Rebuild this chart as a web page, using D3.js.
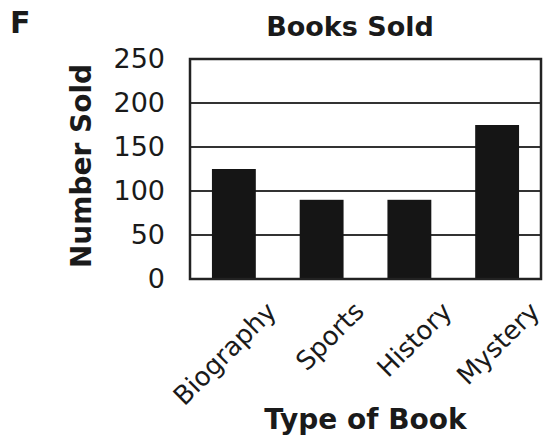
<!DOCTYPE html>
<html>
<head>
<meta charset="utf-8">
<script src="https://cdn.jsdelivr.net/npm/d3@7"></script>
<style>
  body { margin: 0; background: #fff; }
  text { font-family: "DejaVu Sans", Verdana, sans-serif; fill: #1a1a1a; }
</style>
</head>
<body>
<div id="chart-area"></div>
<script>
// data
var categories = ["Biography", "Sports", "History", "Mystery"];
var sold = [125, 90, 90, 175];
var yTicks = [0, 50, 100, 150, 200, 250];

var svg_x = 546;
var svg_y = 440;

// plot frame
var margin = {left: 190, right: 5, top: 59, bottom: 161};
var width = svg_x - margin.left - margin.right;
var height = svg_y - margin.top - margin.bottom;

var svg = d3.select("#chart-area")
  .append("svg")
    .attr("width", svg_x)
    .attr("height", svg_y);

var g = svg.append("g")
  .attr("transform", "translate(" + margin.left + "," + margin.top + ")");

// scales
var x = d3.scaleBand()
  .domain(categories)
  .range([0, width])
  .paddingInner(0.5)
  .paddingOuter(0.25);
var y = d3.scaleLinear()
  .domain([0, 250])
  .range([height, 0]);

// gridlines
g.selectAll(".grid")
  .data(yTicks.slice(1, -1))
  .enter().append("line")
    .attr("x1", 0)
    .attr("x2", width)
    .attr("y1", d => y(d))
    .attr("y2", d => y(d))
    .attr("stroke", "#333")
    .attr("stroke-width", 2);

// bars
g.selectAll("rect.bar")
  .data(sold)
  .enter().append("rect")
    .attr("class", "bar")
    .attr("x", (d, i) => x(categories[i]))
    .attr("y", d => y(d))
    .attr("width", x.bandwidth())
    .attr("height", d => height - y(d))
    .attr("fill", "#151515");

// frame
g.append("rect")
  .attr("width", width)
  .attr("height", height)
  .attr("fill", "none")
  .attr("stroke", "#222")
  .attr("stroke-width", 2.5);

// y axis labels
var yAxisCall = d3.axisLeft(y)
  .tickValues(yTicks)
  .tickSize(0)
  .tickPadding(25);
var yAxis = g.append("g").call(yAxisCall);
yAxis.select(".domain").remove();
yAxis.selectAll("text")
  .attr("font-size", 27)
  .attr("font-family", "DejaVu Sans, Verdana, sans-serif")
  .attr("fill", "#222");

// x axis labels (rotated)
var xAxisCall = d3.axisBottom(x).tickSize(0);
var xAxis = g.append("g")
  .attr("transform", "translate(0," + height + ")")
  .call(xAxisCall);
xAxis.select(".domain").remove();
xAxis.selectAll("text")
  .attr("font-size", 26)
  .attr("font-family", "DejaVu Sans, Verdana, sans-serif")
  .attr("fill", "#222")
  .attr("text-anchor", "end")
  .attr("dy", 0)
  .attr("y", 0)
  .attr("transform", "translate(44,34) rotate(-45)");

// titles
svg.append("text")
  .attr("x", 10)
  .attr("y", 33)
  .attr("font-size", 30)
  .attr("font-weight", "bold")
  .text("F");

svg.append("text")
  .attr("x", 350)
  .attr("y", 36)
  .attr("text-anchor", "middle")
  .attr("font-size", 27)
  .attr("font-weight", "bold")
  .text("Books Sold");

svg.append("text")
  .attr("transform", "rotate(-90)")
  .attr("x", -166)
  .attr("y", 91)
  .attr("text-anchor", "middle")
  .attr("font-size", 28)
  .attr("font-weight", "bold")
  .text("Number Sold");

svg.append("text")
  .attr("x", margin.left + width / 2)
  .attr("y", 429)
  .attr("text-anchor", "middle")
  .attr("font-size", 28)
  .attr("font-weight", "bold")
  .text("Type of Book");
</script>
</body>
</html>
